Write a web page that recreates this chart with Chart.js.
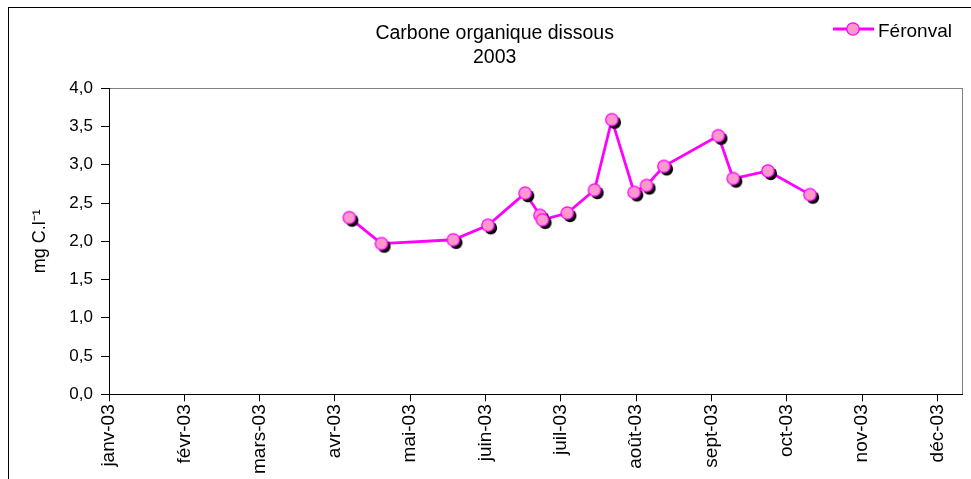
<!DOCTYPE html>
<html>
<head>
<meta charset="utf-8">
<title>Carbone organique dissous 2003</title>
<script src="https://cdn.jsdelivr.net/npm/chart.js@4.4.1/dist/chart.umd.min.js"></script>
<style>
    html, body { margin: 0; padding: 0; background: #fff; overflow: hidden; }
    #wrap { position: relative; width: 971px; height: 479px; }
    #frame { position: absolute; left: 8px; top: 7px; right: -10px; bottom: -10px; border: 1px solid #000; pointer-events: none; }
    #chart { position: absolute; left: 0; top: 0; }
</style>
</head>
<body>
<div id="wrap">
    <canvas id="chart" width="971" height="479"></canvas>
    <div id="frame"></div>
</div>
<script>
// données
const titleLines = ['Carbone organique dissous', '2003'];
const seriesName = 'Féronval';
const yTitle = 'mg C.l⁻¹';
const monthLabels = ['janv-03', 'févr-03', 'mars-03', 'avr-03', 'mai-03', 'juin-03',
    'juil-03', 'août-03', 'sept-03', 'oct-03', 'nov-03', 'déc-03'];
const sampleDates = ['2003-04-08', '2003-04-21', '2003-05-20', '2003-06-03', '2003-06-18',
    '2003-06-24', '2003-06-25', '2003-07-05', '2003-07-16', '2003-07-23', '2003-08-01',
    '2003-08-06', '2003-08-13', '2003-09-04', '2003-09-10', '2003-09-24', '2003-10-11'];
const codValues = [2.31, 1.97, 2.02, 2.21, 2.63, 2.34, 2.28, 2.37, 2.67, 3.59, 2.64,
    2.73, 2.98, 3.38, 2.82, 2.92, 2.61];

const MONTH = 30.4; // l'axe est gradué tous les 30,4 jours
const FONT = 'Liberation Sans, Arial, sans-serif';
const LINE_COLOR = '#FF00FF';
const FILL_COLOR = '#FF99CC';

const dayOfYear = function (iso) {
    const p = iso.split('-').map(Number);
    return (Date.UTC(p[0], p[1] - 1, p[2]) - Date.UTC(p[0], 0, 1)) / 86400000;
};

// marqueur rond avec ombre noire décalée
const makeMarker = function () {
    const c = document.createElement('canvas');
    c.width = 26; c.height = 26;
    const g = c.getContext('2d');
    g.beginPath();
    g.arc(15.8, 15.8, 6.4, 0, Math.PI * 2);
    g.fillStyle = '#000';
    g.fill();
    g.beginPath();
    g.arc(13, 13, 6.2, 0, Math.PI * 2);
    g.fillStyle = FILL_COLOR;
    g.fill();
    g.lineWidth = 1.3;
    g.strokeStyle = LINE_COLOR;
    g.stroke();
    return c;
};

const plotFrame = {
    id: 'plotFrame',
    beforeDraw(chart) {
        const a = chart.chartArea, ctx = chart.ctx;
        ctx.save();
        ctx.strokeStyle = '#808080';
        ctx.lineWidth = 1;
        ctx.strokeRect(Math.round(a.left) + 0.5, Math.round(a.top) + 0.5,
            Math.round(a.right - a.left), Math.round(a.bottom - a.top));
        ctx.restore();
    }
};

const legendBox = {
    id: 'legendBox',
    afterDraw(chart) {
        const ctx = chart.ctx;
        const ds = chart.data.datasets[0];
        const y = 29;
        ctx.save();
        ctx.strokeStyle = ds.borderColor;
        ctx.lineWidth = 2.8;
        ctx.beginPath();
        ctx.moveTo(833, y);
        ctx.lineTo(874, y);
        ctx.stroke();
        ctx.beginPath();
        ctx.arc(853, y, 6.2, 0, Math.PI * 2);
        ctx.fillStyle = FILL_COLOR;
        ctx.fill();
        ctx.lineWidth = 1.3;
        ctx.stroke();
        ctx.fillStyle = '#000';
        ctx.font = '19px ' + FONT;
        ctx.textBaseline = 'alphabetic';
        ctx.fillText(ds.label, 878, 36.5);
        ctx.restore();
    }
};

let points = [];
sampleDates.forEach((d, i) => {
    points.push({ x: dayOfYear(d), y: codValues[i] });
});

const marker = makeMarker();

new Chart(document.getElementById('chart'), {
    type: 'line',
    data: {
        datasets: [{
            label: seriesName,
            data: points,
            borderColor: LINE_COLOR,
            borderWidth: 2.8,
            pointStyle: marker,
            pointRadius: 6,
            tension: 0
        }]
    },
    options: {
        responsive: false,
        animation: false,
        events: [],
        layout: { padding: { left: 25, right: 6.7, top: 0, bottom: 0 } },
        plugins: {
            legend: { display: false },
            tooltip: { enabled: false },
            title: {
                display: true,
                text: titleLines,
                color: '#000',
                font: { family: FONT, size: 19.5, weight: 'normal', lineHeight: 1.22 },
                padding: { top: 21.5, bottom: 19.2 }
            }
        },
        scales: {
            x: {
                type: 'linear',
                min: 0,
                max: 11.33 * MONTH,
                afterBuildTicks: (s) => {
                    s.ticks = monthLabels.map((l, i) => ({ value: i * MONTH }));
                },
                afterFit: (s) => { s.height = 84.7; },
                border: { color: '#000', width: 1 },
                grid: { drawOnChartArea: false, drawTicks: true, tickLength: 7, color: '#000' },
                ticks: {
                    color: '#000',
                    font: { family: FONT, size: 19 },
                    minRotation: 90,
                    maxRotation: 90,
                    padding: 3,
                    autoSkip: false,
                    callback: (v) => monthLabels[Math.round(v / MONTH)]
                }
            },
            y: {
                min: 0,
                max: 4,
                afterFit: (s) => { s.width = 84; },
                border: { color: '#000', width: 1 },
                grid: { drawOnChartArea: false, drawTicks: true, tickLength: 8, color: '#000' },
                ticks: {
                    stepSize: 0.5,
                    color: '#000',
                    padding: 8,
                    font: { family: FONT, size: 17 },
                    callback: (v) => v.toFixed(1).replace('.', ',')
                },
                title: {
                    display: true,
                    text: yTitle,
                    color: '#000',
                    font: { family: FONT, size: 18 },
                    padding: { top: 4, bottom: 0 }
                }
            }
        }
    },
    plugins: [plotFrame, legendBox]
});
</script>
</body>
</html>
